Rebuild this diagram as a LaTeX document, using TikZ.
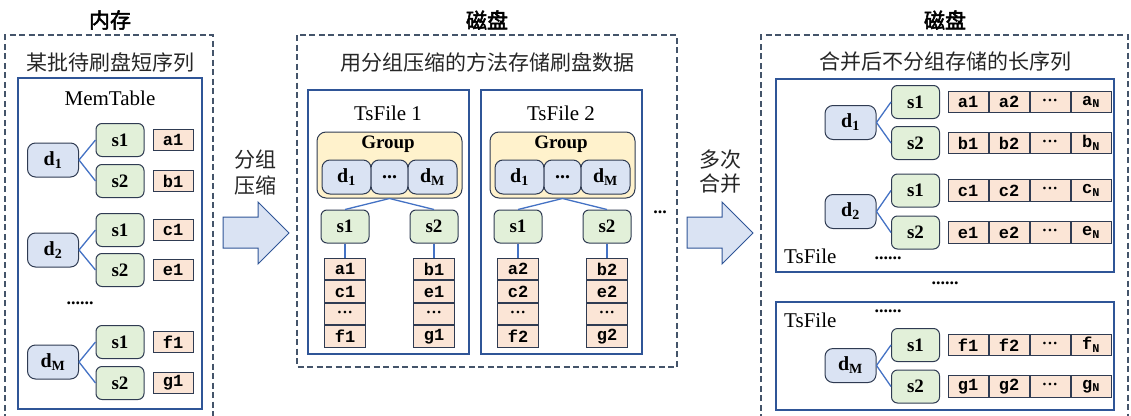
\documentclass[tikz,border=0pt]{standalone}
\usepackage{fontspec}
\setmainfont{Liberation Serif}
\setmonofont{Liberation Mono}
\newfontfamily\cjk[AutoFakeBold=2.5]{Noto Sans CJK SC}
\definecolor{dfill}{HTML}{DAE3F3}
\definecolor{sfill}{HTML}{E2F0D9}
\definecolor{cfill}{HTML}{FBE5D6}
\definecolor{gfill}{HTML}{FFF2CC}
\definecolor{nodeedge}{HTML}{2F3B52}
\definecolor{boxblue}{HTML}{2F5597}
\definecolor{dashgray}{HTML}{44546A}
\definecolor{lineblue}{HTML}{4472C4}
\newcommand{\fsz}[1]{\fontsize{#1}{#1}\selectfont}
\newcommand{\dsub}[1]{d\textsubscript{#1}}
\newcommand{\mdots}{{\fsz{9}\raisebox{2pt}{•••}}}
\tikzset{
  dnode/.style={draw=nodeedge, fill=dfill, line width=1pt, rounded corners=8pt, minimum width=51pt, minimum height=34pt, inner sep=0pt, font=\bfseries\fsz{20}},
  snode/.style={draw=nodeedge, fill=sfill, line width=1pt, rounded corners=6pt, minimum width=48pt, minimum height=33pt, inner sep=0pt, font=\bfseries\fsz{19}},
  cell/.style={draw=nodeedge, fill=cfill, line width=1pt, minimum width=40pt, minimum height=21.5pt, inner sep=0pt, font=\ttfamily\bfseries\fsz{17}},
  conn/.style={draw=lineblue, line width=1.3pt},
  dashbox/.style={draw=dashgray, line width=1.2pt, dash pattern=on 6pt off 3.5pt},
  filebox/.style={draw=boxblue, line width=1.2pt},
  bigarrow/.style={draw=boxblue, fill=dfill, line width=1pt, line join=miter},
  cjktxt/.style={font=\cjk\fsz{21}, text=black!85, inner sep=0pt},
  cjktitle/.style={font=\cjk\bfseries\fsz{21}, inner sep=0pt},
  latintxt/.style={font=\fsz{21}, inner sep=0pt},
  dots/.style={font=\bfseries\fsz{18}, inner sep=0pt},
  gcell/.style={draw=nodeedge, fill=dfill, line width=1pt, rounded corners=8pt, minimum height=34pt, inner sep=0pt, font=\bfseries\fsz{20}}
}
\begin{document}
\begin{tikzpicture}[x=1pt, y=-1pt]
\useasboundingbox (0,0) rectangle (1131,415);
% ---------- titles ----------
\node[cjktitle] (t1) at (110,20) {内存};
\node[cjktitle] (t2) at (487,20) {磁盘};
\node[cjktitle] (t3) at (945,20) {磁盘};
% ---------- dashed boxes ----------
\draw[dashbox] (5,420) -- (5,35) -- (213,35) -- (213,420);
\draw[dashbox] (297,35) rectangle (677,367);
\draw[dashbox] (761,420) -- (761,35) -- (1128,35) -- (1128,420);
\node[cjktxt] (sub1) at (110,62) {某批待刷盘短序列};
\node[cjktxt] (sub2) at (487,62) {用分组压缩的方法存储刷盘数据};
\node[cjktxt] (sub3) at (945,62) {合并后不分组存储的长序列};
% ---------- left: MemTable ----------
\draw[filebox] (18,78) rectangle (202,409);
\node[latintxt] (mt) at (110,98) {MemTable};
\foreach \dy/\dl/\ya/\yb/\ca/\cb/\nm in {160/1/140/181/a1/b1/A, 250/2/230/270/c1/e1/B, 362/M/342/383/f1/g1/C}{
  \node[dnode] (md\nm) at (53,\dy) {\dsub{\dl}};
  \node[snode] (ms1\nm) at (120,\ya) {s1};
  \node[snode] (ms2\nm) at (120,\yb) {s2};
  \node[cell] (mc1\nm) at (173,\ya) {\ca};
  \node[cell] (mc2\nm) at (173,\yb) {\cb};
  \draw[conn] (md\nm.east) -- (ms1\nm.west);
  \draw[conn] (md\nm.east) -- (ms2\nm.west);
}
\node[dots] (mdots) at (80,303) {......};
% ---------- arrow 1 ----------
\node[cjktxt] (a1t1) at (255,160) {分组};
\node[cjktxt] (a1t2) at (255,185) {压缩};
\draw[bigarrow] (223,217) -- (258,217) -- (258,202) -- (289,233) -- (258,264) -- (258,248) -- (223,248) -- cycle;
% ---------- middle: TsFiles ----------
\foreach \ox/\k in {0/1, 173/2}{
  \begin{scope}[xshift=\ox]
  \draw[filebox] (308,90) rectangle (469,354);
  \node[latintxt] (tf\k) at (388,113) {TsFile \k};
  \node[draw=nodeedge, fill=gfill, line width=1pt, rounded corners=9pt, minimum width=145pt, minimum height=66pt] (grp\k) at (389.5,165) {};
  \node[font=\bfseries\fsz{19}, inner sep=0pt] (gl\k) at (388,144) {Group};
  \node[gcell, minimum width=49pt] (gd1\k) at (346.5,177) {\dsub{1}};
  \node[gcell, minimum width=37pt] (gdd\k) at (389.5,177) {...};
  \node[gcell, minimum width=49pt] (gdm\k) at (432.5,177) {\dsub{M}};
  \node[snode] (ts1\k) at (345,226.5) {s1};
  \node[snode] (ts2\k) at (434,226.5) {s2};
  \draw[conn] (grp\k.south) -- (ts1\k.north);
  \draw[conn] (grp\k.south) -- (ts2\k.north);
  \end{scope}
}
\foreach \ox/\k/\ca/\cb/\cd/\ce/\cf/\cg in {0/1/a1/c1/f1/b1/e1/g1, 173/2/a2/c2/f2/b2/e2/g2}{
  \begin{scope}[xshift=\ox]
  \node[cell, minimum width=41pt] (la\k) at (345,269) {\ca};
  \node[cell, minimum width=41pt, anchor=north] (lb\k) at (la\k.south) {\cb};
  \node[cell, minimum width=41pt, anchor=north] (lc\k) at (lb\k.south) {\mdots};
  \node[cell, minimum width=41pt, anchor=north] (ld\k) at (lc\k.south) {\cd};
  \node[cell, minimum width=41pt] (ra\k) at (434,269) {\ce};
  \node[cell, minimum width=41pt, anchor=north] (rb\k) at (ra\k.south) {\cf};
  \node[cell, minimum width=41pt, anchor=north] (rc\k) at (rb\k.south) {\mdots};
  \node[cell, minimum width=41pt, anchor=north] (rd\k) at (rc\k.south) {\cg};
  \draw[conn] (ts1\k.south) -- (la\k.north);
  \draw[conn] (ts2\k.south) -- (ra\k.north);
  \end{scope}
}
\node[dots] (mid) at (660,212) {...};
% ---------- arrow 2 ----------
\node[cjktxt] (a2t1) at (720,160) {多次};
\node[cjktxt] (a2t2) at (720,184) {合并};
\draw[bigarrow] (687,217) -- (722,217) -- (722,202) -- (753,233) -- (722,264) -- (722,248) -- (687,248) -- cycle;
% ---------- right: merged TsFiles ----------
\draw[filebox] (776,79) rectangle (1114,272);
\draw[filebox] (776,302) rectangle (1114,410);
\node[latintxt, anchor=west] (rtf1) at (784,256) {TsFile};
\node[dots] (rdots1) at (888,258) {......};
\node[dots] (rdots) at (945,283) {......};
\node[latintxt, anchor=west] (rtf2) at (784,320) {TsFile};
\node[dots] (rdots2) at (888,311) {......};
\foreach \dy/\dl/\ya/\yb/\p/\q/\nm in {122.5/1/102/143/a/b/A, 211.5/2/190.5/232.5/c/e/B, 365.5/M/345/386.5/f/g/C}{
  \node[dnode] (rd\nm) at (850.5,\dy) {\dsub{\dl}};
  \node[snode] (rs1\nm) at (915.5,\ya) {s1};
  \node[snode] (rs2\nm) at (915.5,\yb) {s2};
  \draw[conn] (rd\nm.east) -- (rs1\nm.west);
  \draw[conn] (rd\nm.east) -- (rs2\nm.west);
  \node[cell] (r1a\nm) at (968,\ya) {\p1};
  \node[cell, anchor=west] (r1b\nm) at (r1a\nm.east) {\p2};
  \node[cell, anchor=west] (r1c\nm) at (r1b\nm.east) {\mdots};
  \node[cell, anchor=west] (r1d\nm) at (r1c\nm.east) {\p\textsubscript{N}};
  \node[cell] (r2a\nm) at (968,\yb) {\q1};
  \node[cell, anchor=west] (r2b\nm) at (r2a\nm.east) {\q2};
  \node[cell, anchor=west] (r2c\nm) at (r2b\nm.east) {\mdots};
  \node[cell, anchor=west] (r2d\nm) at (r2c\nm.east) {\q\textsubscript{N}};
}
\end{tikzpicture}
\end{document}
